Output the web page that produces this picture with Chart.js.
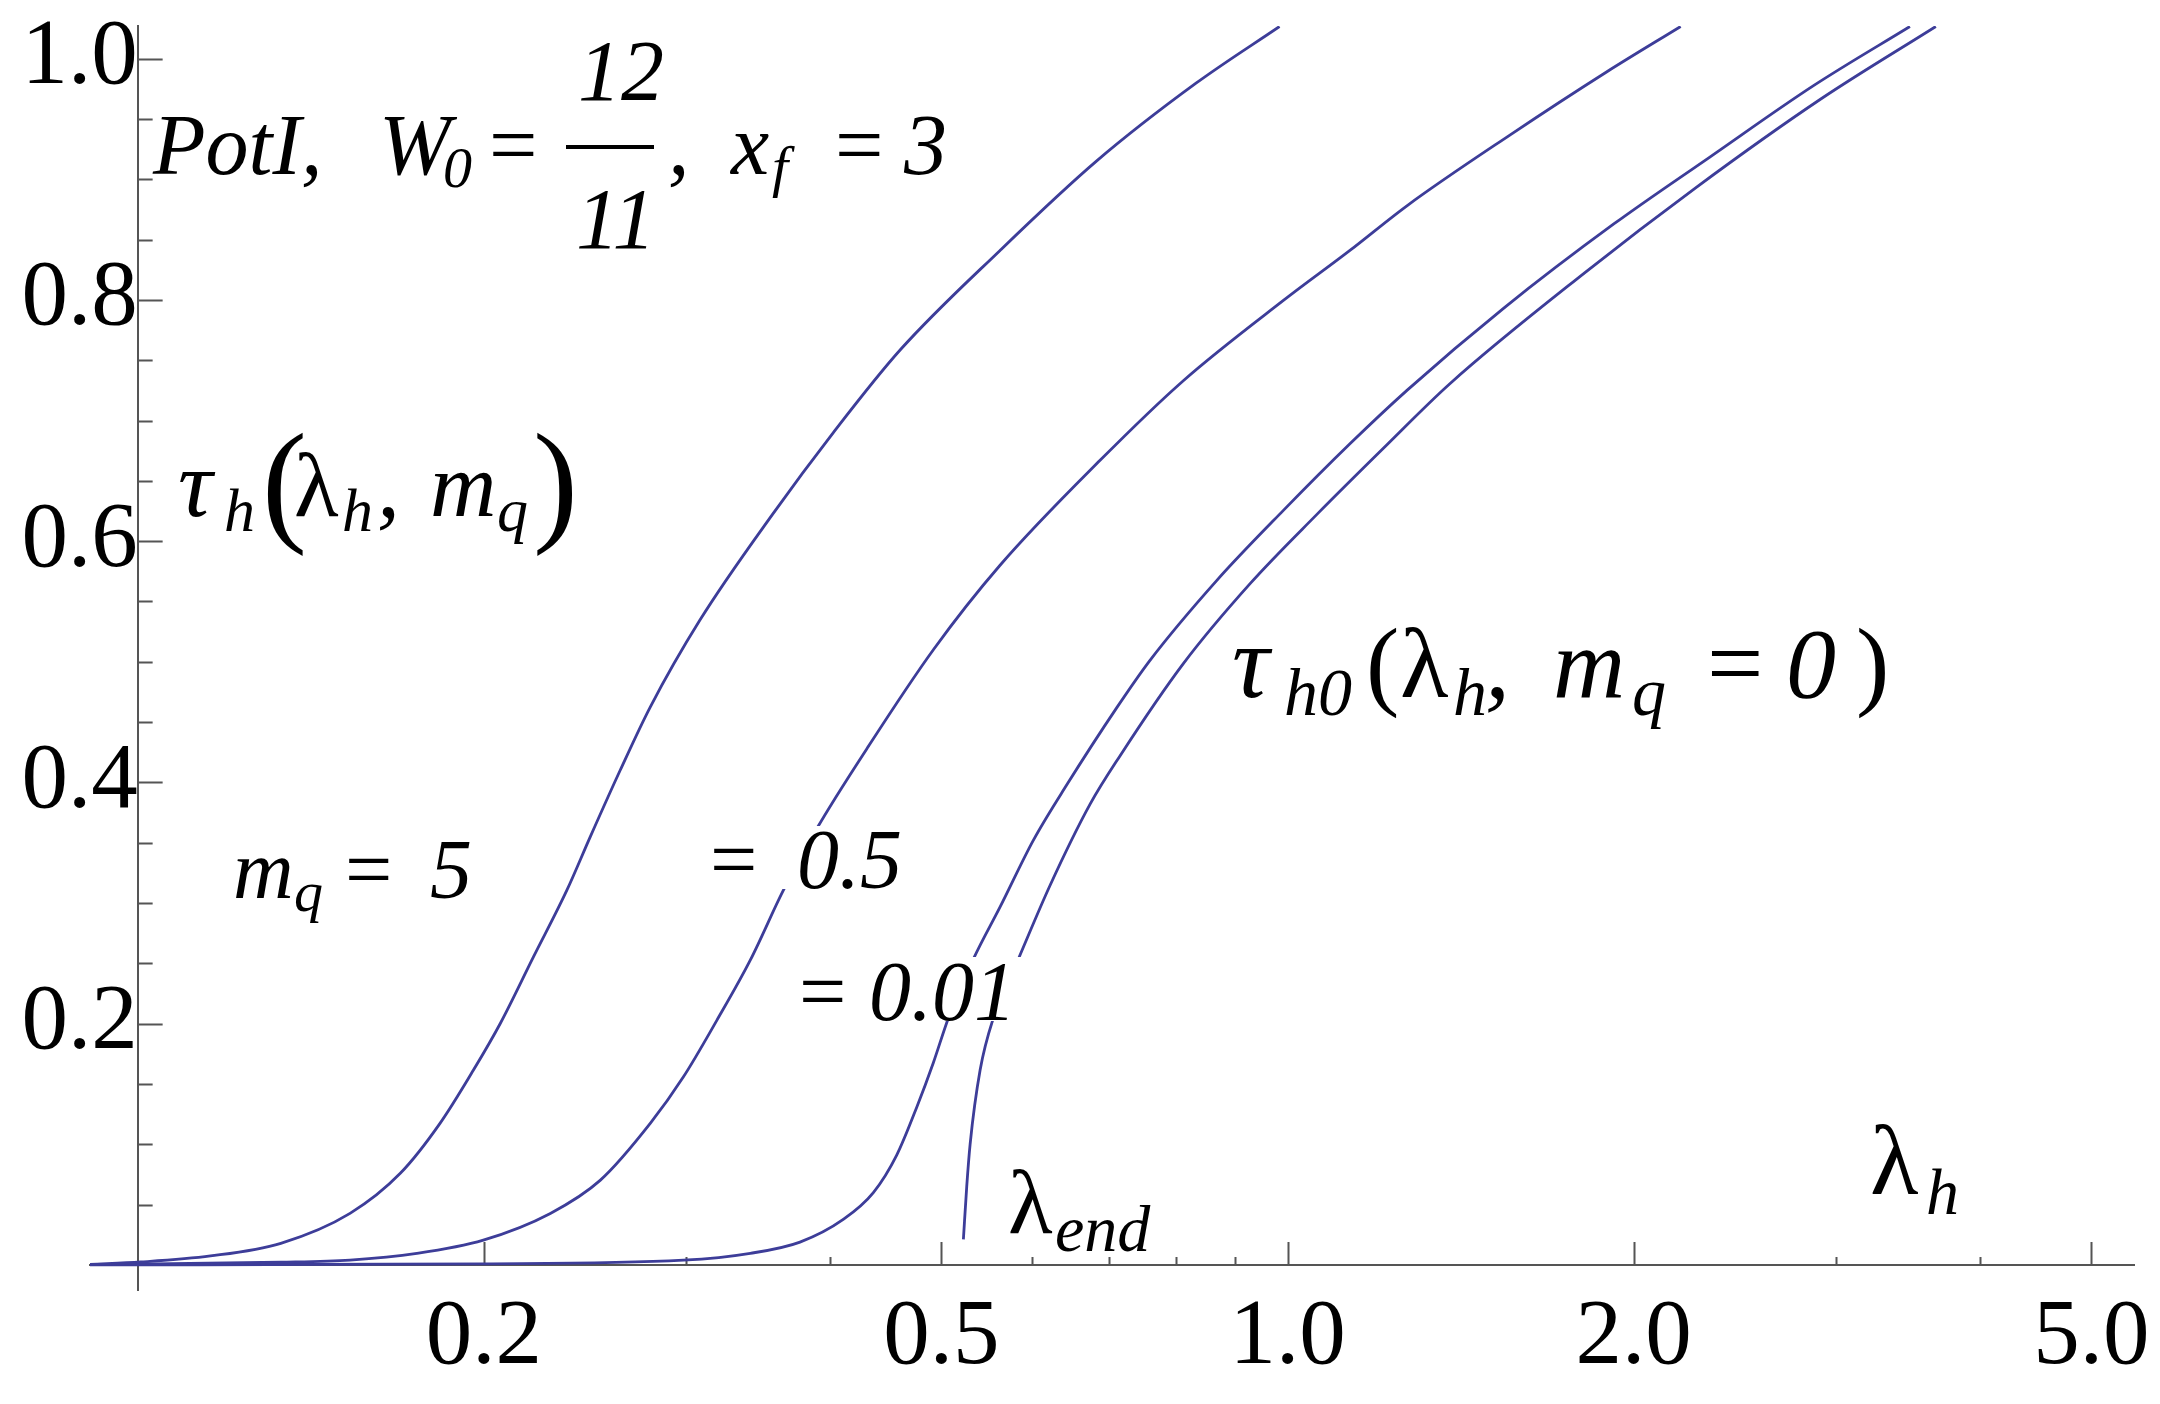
<!DOCTYPE html>
<html>
<head>
<meta charset="utf-8">
<script src="https://cdn.jsdelivr.net/npm/chart.js@4.4.0/dist/chart.umd.min.js"></script>
<style>
  html, body { margin: 0; padding: 0; background: #fff; }
  canvas { display: block; }
</style>
</head>
<body>
<canvas id="chart" width="2160" height="1404"></canvas>
<script>
// curve m_q = 5
const lambdaA = [0.0909, 0.1006, 0.1157, 0.1332, 0.153, 0.1692, 0.1832, 0.1959, 0.2067, 0.2209, 0.2362, 0.2475, 0.2628, 0.2791, 0.3085, 0.3564, 0.4027, 0.4603, 0.5623, 0.682, 0.8325, 0.984];
const tauA = [0.0005, 0.0025, 0.0075, 0.018, 0.0428, 0.076, 0.1174, 0.1616, 0.2002, 0.2554, 0.3107, 0.3549, 0.4101, 0.4625, 0.535, 0.622, 0.69, 0.7584, 0.841, 0.915, 0.9796, 1.0266];

// curve m_q = 0.5
const lambdaB = [0.0909, 0.1332, 0.153, 0.1749, 0.1998, 0.2285, 0.2526, 0.2791, 0.2983, 0.319, 0.341, 0.3644, 0.3896, 0.4307, 0.492, 0.5623, 0.687, 0.8116, 0.9917, 1.133, 1.27, 1.563, 1.894, 2.197];
const tauB = [0.0003, 0.0023, 0.0041, 0.0097, 0.0207, 0.0428, 0.0704, 0.1174, 0.156, 0.203, 0.2527, 0.3107, 0.3618, 0.428, 0.51, 0.58, 0.667, 0.733, 0.7995, 0.841, 0.878, 0.937, 0.9889, 1.0266];

// curve m_q = 0.01
const lambdaC = [0.0909, 0.2, 0.2983, 0.341, 0.3767, 0.4111, 0.4363, 0.4572, 0.476, 0.492, 0.507, 0.533, 0.5625, 0.601, 0.6427, 0.7104, 0.7592, 0.868, 0.9917, 1.133, 1.27, 1.54, 1.923, 2.331, 2.869, 3.477];
const tauC = [0.0001, 0.001, 0.004, 0.0097, 0.019, 0.038, 0.06, 0.0911, 0.131, 0.1677, 0.2046, 0.2535, 0.297, 0.352, 0.398, 0.462, 0.5012, 0.5675, 0.6255, 0.6807, 0.725, 0.7928, 0.8631, 0.9186, 0.9778, 1.0266];

// curve m_q = 0 (starts at lambda_end)
const lambdaD = [0.5225, 0.526, 0.5296, 0.5403, 0.5548, 0.5832, 0.6216, 0.6734, 0.7149, 0.8116, 0.9277, 1.06, 1.2115, 1.384, 1.8127, 2.2625, 2.911, 3.662];
const tauD = [0.0212, 0.065, 0.1002, 0.1616, 0.2046, 0.2535, 0.3148, 0.382, 0.422, 0.4985, 0.5648, 0.622, 0.677, 0.7305, 0.8224, 0.8927, 0.9667, 1.0266];

const xTickValues = [0.2, 0.5, 1, 2, 5];
const xTickLabels = ['0.2', '0.5', '1.0', '2.0', '5.0'];
const xMinorTicks = [0.3, 0.4, 0.6, 0.7, 0.8, 0.9, 3, 4];
const yTickValues = [0.2, 0.4, 0.6, 0.8, 1.0];
const yTickLabels = ['0.2', '0.4', '0.6', '0.8', '1.0'];
const yMinorTicks = [0.05, 0.1, 0.15, 0.25, 0.3, 0.35, 0.45, 0.5, 0.55, 0.65, 0.7, 0.75, 0.85, 0.9, 0.95];

const SERIF = '"Liberation Serif", "Times New Roman", serif';
const LINE_COLOR = 'rgb(61, 61, 153)';
const AXIS_COLOR = '#555555';

function font(size, italic) {
  return (italic ? 'italic ' : '') + size + 'px ' + SERIF;
}

function toPoints(xs, ys) {
  return xs.map((x, i) => ({ x: x, y: ys[i] }));
}

function curve(xs, ys) {
  return {
    data: toPoints(xs, ys),
    borderColor: LINE_COLOR,
    borderWidth: 2.8,
    pointRadius: 0,
    fill: false,
    cubicInterpolationMode: 'monotone'
  };
}

// no extra label padding, so the plot area is exactly the layout padding box
function noPad(s) {
  s.paddingLeft = 0;
  s.paddingRight = 0;
  s.paddingTop = 0;
  s.paddingBottom = 0;
}

// text pieces: [text, x, baseline, size, italic]
const textBoxes = [
  // title
  { pieces: [
    ['PotI,', 153, 174, 86, true],
    ['W', 379, 174, 86, true],
    ['0', 443, 187, 58, true],
    ['=', 489, 174, 86, false],
    ['12', 578, 100, 86, true],
    ['11', 576, 248, 86, true],
    [',', 668, 174, 86, true],
    ['x', 731, 174, 86, true],
    ['f', 772, 186, 58, true],
    ['=', 835, 174, 86, false],
    ['3', 904, 174, 86, true]
  ], bar: [566, 654, 147] },
  // tau_h(lambda_h, m_q)
  { pieces: [
    ['\u03C4', 178, 516, 96, true],
    ['h', 224, 531, 62, true],
    ['(', 262, 527, 135, false],
    ['\u03BB', 294, 516, 92, false],
    ['h', 342, 531, 62, true],
    [',', 377, 516, 92, true],
    ['m', 430, 516, 92, true],
    ['q', 497, 531, 62, true],
    [')', 533, 527, 135, false]
  ] },
  // tau_h0(lambda_h, m_q = 0)
  { pieces: [
    ['\u03C4', 1232, 697, 104, true],
    ['h0', 1284, 715, 68, true],
    ['(', 1366, 697, 100, false],
    ['\u03BB', 1400, 697, 100, false],
    ['h', 1453, 715, 68, true],
    [',', 1485, 697, 100, true],
    ['m', 1553, 697, 100, true],
    ['q', 1632, 715, 68, true],
    ['=', 1707, 697, 100, false],
    ['0', 1786, 697, 100, true],
    [')', 1856, 697, 100, false]
  ] },
  // m_q = 5
  { pieces: [
    ['m', 233, 898, 84, true],
    ['q', 294, 911, 58, true],
    ['=', 345, 898, 84, false],
    ['5', 430, 898, 84, true]
  ] },
  // = 0.5
  { pieces: [
    ['=', 710, 888, 84, false],
    ['0.5', 797, 888, 84, true]
  ], box: [705, 826, 200, 63] },
  // = 0.01
  { pieces: [
    ['=', 799, 1020, 84, false],
    ['0.01', 869, 1020, 84, true]
  ], box: [795, 957, 228, 64] },
  // lambda_end
  { pieces: [
    ['\u03BB', 1008, 1233, 92, false],
    ['end', 1055, 1251, 66, true]
  ] },
  // lambda_h
  { pieces: [
    ['\u03BB', 1870, 1194, 100, false],
    ['h', 1926, 1214, 66, true]
  ] }
];

const inwardTicks = {
  id: 'inwardTicks',
  beforeDatasetsDraw(chart) {
    const ctx = chart.ctx;
    const xs = chart.scales.x;
    const ys = chart.scales.y;
    const ax = xs.getPixelForValue(0.1);
    const ay = ys.getPixelForValue(0);
    ctx.save();
    ctx.strokeStyle = AXIS_COLOR;
    ctx.lineWidth = 2;
    ctx.beginPath();
    xTickValues.forEach(v => {
      const p = Math.round(xs.getPixelForValue(v)) + 0.5;
      ctx.moveTo(p, ay); ctx.lineTo(p, ay - 23);
    });
    xMinorTicks.forEach(v => {
      const p = Math.round(xs.getPixelForValue(v)) + 0.5;
      ctx.moveTo(p, ay); ctx.lineTo(p, ay - 8);
    });
    yTickValues.forEach(v => {
      const p = Math.round(ys.getPixelForValue(v)) + 0.5;
      ctx.moveTo(ax, p); ctx.lineTo(ax + 25, p);
    });
    yMinorTicks.forEach(v => {
      const p = Math.round(ys.getPixelForValue(v)) + 0.5;
      ctx.moveTo(ax, p); ctx.lineTo(ax + 15, p);
    });
    ctx.stroke();
    ctx.restore();
  }
};

const annotations = {
  id: 'annotations',
  afterDatasetsDraw(chart) {
    const ctx = chart.ctx;
    ctx.save();
    ctx.textAlign = 'left';
    ctx.textBaseline = 'alphabetic';
    textBoxes.forEach(t => {
      if (t.box) {
        ctx.fillStyle = '#ffffff';
        ctx.fillRect(t.box[0], t.box[1], t.box[2], t.box[3]);
      }
      ctx.fillStyle = '#000000';
      t.pieces.forEach(p => {
        ctx.font = font(p[3], p[4]);
        ctx.fillText(p[0], p[1], p[2]);
      });
      if (t.bar) {
        ctx.fillRect(t.bar[0], t.bar[2] - 2, t.bar[1] - t.bar[0], 4);
      }
    });
    ctx.restore();
  }
};

new Chart(document.getElementById('chart'), {
  type: 'line',
  data: {
    datasets: [
      curve(lambdaA, tauA),
      curve(lambdaB, tauB),
      curve(lambdaC, tauC),
      curve(lambdaD, tauD)
    ]
  },
  options: {
    responsive: false,
    devicePixelRatio: 1,
    animation: false,
    events: [],
    layout: { padding: { left: 90, right: 26, top: 26, bottom: 114 } },
    plugins: {
      legend: { display: false },
      tooltip: { enabled: false }
    },
    scales: {
      x: {
        type: 'logarithmic',
        min: 0.0909,
        max: 5.446,
        bounds: 'data',
        position: { y: 0 },
        afterBuildTicks: s => { s.ticks = xTickValues.map(v => ({ value: v })); },
        afterFit: noPad,
        grid: { display: false, drawTicks: false },
        border: { display: true, color: AXIS_COLOR, width: 2 },
        ticks: {
          autoSkip: false,
          maxRotation: 0,
          padding: 18,
          color: '#000',
          font: { family: SERIF, size: 93 },
          callback: v => xTickLabels[xTickValues.indexOf(v)]
        }
      },
      y: {
        type: 'linear',
        min: -0.0207,
        max: 1.027,
        bounds: 'data',
        position: { x: 0.1 },
        afterBuildTicks: s => { s.ticks = yTickValues.map(v => ({ value: v })); },
        afterFit: noPad,
        grid: { display: false, drawTicks: false },
        border: { display: true, color: AXIS_COLOR, width: 2 },
        ticks: {
          autoSkip: false,
          padding: 16,
          color: '#000',
          font: { family: SERIF, size: 93 },
          callback: v => yTickLabels[yTickValues.indexOf(v)]
        }
      }
    }
  },
  plugins: [inwardTicks, annotations]
});
</script>
</body>
</html>
